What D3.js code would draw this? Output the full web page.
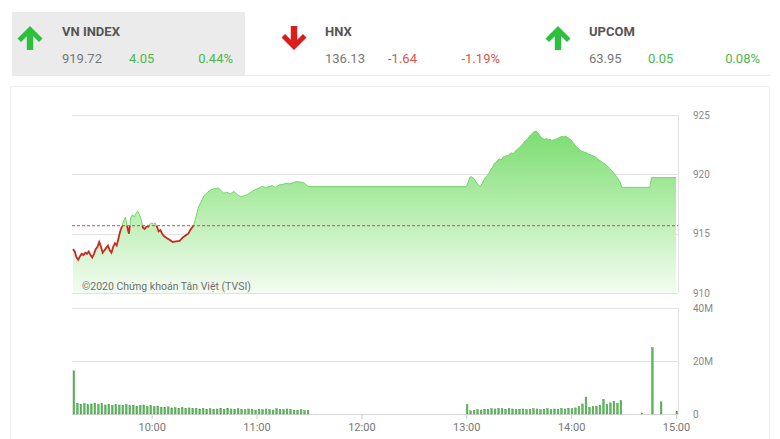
<!DOCTYPE html>
<html><head><meta charset="utf-8">
<script src="https://cdn.jsdelivr.net/npm/d3@7/dist/d3.min.js"></script>
<style>
html,body{margin:0;padding:0;background:#fff;}
svg{display:block;font-family:Roboto,"Noto Sans",sans-serif;}
</style></head>
<body><svg id="c" width="780" height="439"></svg>
<script>
// ---------- data ----------
const indexNames   = ["VN INDEX", "HNX", "UPCOM"];
const indexValues  = ["919.72", "136.13", "63.95"];
const indexChanges = ["4.05", "-1.64", "0.05"];
const indexPercent = ["0.44%", "-1.19%", "0.08%"];
const indexUp      = [true, false, true];

const referencePrice = 915.67;
const priceTicks = [910, 915, 920, 925];
const volumeTicks = [0, 20, 40];
const timeTicks = ["10:00", "11:00", "12:00", "13:00", "14:00", "15:00"];

const priceSeries = [
 ["09:15",913.7],["09:16",913.5],["09:17",913.0],["09:18",912.8],["09:19",913.1],["09:20",913.3],
 ["09:21",913.2],["09:22",913.4],["09:23",913.3],["09:24",913.5],["09:25",913.2],["09:26",913.0],
 ["09:27",913.3],["09:28",913.7],["09:29",913.9],["09:30",914.3],["09:31",913.9],["09:32",913.4],
 ["09:33",913.6],["09:34",913.8],["09:35",914.0],["09:36",913.6],["09:37",913.4],["09:38",913.9],
 ["09:39",914.2],["09:40",914.0],["09:41",914.6],["09:42",915.2],["09:43",915.6],["09:44",916.1],
 ["09:45",916.4],["09:46",915.6],["09:47",915.0],["09:48",916.3],["09:49",916.6],["09:50",916.4],
 ["09:51",916.7],["09:52",916.9],["09:53",916.6],["09:54",916.2],["09:55",915.5],["09:56",915.4],
 ["09:57",915.6],["09:58",915.6],["09:59",915.8],["10:00",915.9],["10:01",915.8],["10:02",915.9],
 ["10:03",915.6],["10:04",915.2],["10:05",915.3],["10:06",915.0],["10:07",914.8],["10:08",914.7],
 ["10:09",914.6],["10:10",914.5],["10:11",914.4],["10:12",914.3],["10:14",914.35],["10:16",914.4],
 ["10:18",914.7],["10:20",914.9],["10:21",915.0],["10:22",915.3],["10:24",915.7],["10:25",916.2],
 ["10:26",916.8],["10:27",917.3],["10:29",917.9],["10:30",918.2],["10:32",918.5],["10:34",918.7],
 ["10:36",918.8],["10:38",918.85],["10:40",918.6],["10:41",918.4],["10:43",918.5],["10:45",918.35],
 ["10:47",918.55],["10:49",918.3],["10:51",918.1],["10:53",918.2],["10:55",918.3],["10:57",918.5],
 ["10:59",918.7],["11:01",918.8],["11:03",919.0],["11:05",918.9],["11:07",918.95],["11:09",919.05],
 ["11:11",918.9],["11:13",919.1],["11:15",919.15],["11:17",919.25],["11:19",919.2],["11:21",919.3],
 ["11:23",919.4],["11:25",919.35],["11:27",919.3],["11:29",919.05],["11:30",918.96],
 ["13:00",918.96],["13:01",919.3],["13:02",919.75],["13:03",919.8],["13:04",919.7],["13:05",919.5],
 ["13:06",919.25],["13:07",919.1],["13:08",918.95],["13:09",919.2],["13:10",919.5],["13:11",919.75],
 ["13:12",919.9],["13:13",920.1],["13:14",920.35],["13:15",920.6],["13:16",920.9],["13:17",921.0],
 ["13:18",921.2],["13:19",921.3],["13:20",921.2],["13:21",921.45],["13:22",921.5],["13:23",921.6],
 ["13:24",921.55],["13:25",921.75],["13:26",921.8],["13:27",921.75],["13:28",921.95],["13:29",922.1],
 ["13:30",922.2],["13:31",922.35],["13:32",922.5],["13:33",922.7],["13:34",922.85],["13:35",922.95],
 ["13:36",923.2],["13:37",923.3],["13:38",923.5],["13:39",923.6],["13:40",923.65],["13:41",923.5],
 ["13:42",923.3],["13:43",923.1],["13:44",923.0],["13:45",922.95],["13:46",923.0],["13:47",922.9],
 ["13:48",922.95],["13:49",922.85],["13:50",922.9],["13:51",922.95],["13:52",923.0],["13:53",923.1],
 ["13:54",923.15],["13:55",923.2],["13:56",923.15],["13:57",923.2],["13:58",923.1],["13:59",923.0],
 ["14:00",922.9],["14:01",922.7],["14:02",922.5],["14:03",922.3],["14:04",922.2],["14:05",922.05],
 ["14:06",921.95],["14:07",921.9],["14:08",921.85],["14:09",921.8],["14:10",921.7],["14:12",921.6],
 ["14:14",921.45],["14:16",921.2],["14:18",921.0],["14:20",920.8],["14:22",920.5],["14:24",920.2],
 ["14:26",919.8],["14:28",919.35],["14:29",918.9],["14:30",918.9],["14:45",918.9],["14:46",919.72],
 ["15:00",919.72]
];

// volume (millions), two-minute bars
const volumeMorningStart = "09:15";
const volumeMorning = [16.3,
 4.0,3.6,3.9,3.5,3.8,4.1,3.6,3.9,3.4,3.7,3.3,3.5,
 3.4,3.2,3.5,3.1,3.3,3.0,3.2,3.4,2.9,3.1,
 2.8,3.0,2.6,2.5,2.7,2.3,2.4,2.2,2.5,2.1,2.3,2.0,2.2,1.9,2.1,
 1.8,2.0,1.7,1.9,2.1,1.8,2.2,1.9,1.7,2.0,1.8,1.6,1.9,1.7,1.5,
 1.8,1.6,1.9,1.7,1.5,2.0,1.8,1.6,1.9,1.7,1.5,1.4,1.6,1.3,1.4];
const volumeAfternoonStart = "13:00";
const volumeAfternoon = [3.5,
 1.2,1.4,1.6,1.5,1.8,1.7,2.0,1.9,2.1,2.0,1.8,2.1,1.9,1.7,1.8,
 1.9,1.7,1.8,2.0,1.9,1.6,1.8,2.0,1.7,1.9,1.8,2.1,1.9,2.2,2.0,
 2.3,2.8,3.8,6.4,2.5,2.8,3.0,3.3,5.5,3.6,4.2,4.8,4.0,5.0];
const volumeLate = [["14:40",0.4],["14:46",25.0],["14:51",4.6],["15:00",1.0]];

// ---------- drawing ----------
const svg = d3.select("#c");
const parse = d3.timeParse("%H:%M");
const fmt = d3.timeFormat("%H:%M");

const x = d3.scaleTime().domain([parse("09:15"), parse("15:00")]).range([73, 676]);
const yP = d3.scaleLinear().domain([910, 925]).range([293, 115]);
const yV = d3.scaleLinear().domain([0, 40]).range([414, 308]);

// header
svg.append("rect").attr("x",12).attr("y",12).attr("width",233).attr("height",63).attr("fill","#ebebeb");
svg.append("line").attr("x1",12).attr("x2",770).attr("y1",75.5).attr("y2",75.5).attr("stroke","#e8e8e8");
const arrowUp = "M0,0 L12.5,12.5 L9,16 L3.2,10.2 L3.2,24 L-3.2,24 L-3.2,10.2 L-9,16 L-12.5,12.5 Z";
const arrowOffsets = [30, 294, 558];
const nameX = [62, 325, 589];
const chgX = [129, 388, 648];
const pctX = [233, 500, 760];
indexNames.forEach((n,i)=>{
  const col = indexUp[i] ? "#2fbf3f" : "#dd1c1c";
  const txtCol = indexUp[i] ? "#4cb84c" : "#d9534f";
  const g = svg.append("g");
  g.append("path").attr("d", arrowUp)
    .attr("transform", indexUp[i] ? `translate(${arrowOffsets[i]},26)` : `translate(${arrowOffsets[i]},50) scale(1,-1)`)
    .attr("fill", col);
  g.append("text").attr("x",nameX[i]).attr("y",36).attr("font-size",13).attr("font-weight","bold")
    .attr("fill","#555").text(n);
  g.append("text").attr("x",nameX[i]).attr("y",63).attr("font-size",13).attr("fill","#777").text(indexValues[i]);
  g.append("text").attr("x",chgX[i]).attr("y",63).attr("font-size",13).attr("fill",txtCol).text(indexChanges[i]);
  g.append("text").attr("x",pctX[i]).attr("y",63).attr("font-size",13).attr("fill",txtCol)
    .attr("text-anchor","end").text(indexPercent[i]);
});

// card
svg.append("rect").attr("x",10.5).attr("y",86.5).attr("width",759).attr("height",360)
  .attr("fill","none").attr("stroke","#efefef");

const defs = svg.append("defs");
const grad = defs.append("linearGradient").attr("id","gfill").attr("gradientUnits","userSpaceOnUse")
  .attr("x1",0).attr("x2",0).attr("y1",yP(923.5)).attr("y2",yP(910));
grad.append("stop").attr("offset",0).attr("stop-color","#7ddd73");
grad.append("stop").attr("offset",0.45).attr("stop-color","#b3edaa");
grad.append("stop").attr("offset",1).attr("stop-color","#f4fcf2");

const yRef = yP(referencePrice);
defs.append("clipPath").attr("id","above").append("rect")
  .attr("x",0).attr("y",0).attr("width",780).attr("height",yRef);
defs.append("clipPath").attr("id","below").append("rect")
  .attr("x",0).attr("y",yRef).attr("width",780).attr("height",439-yRef);

// price gridlines
const gridG = svg.append("g");
priceTicks.forEach(t=>{
  gridG.append("line").attr("x1",72).attr("x2",678).attr("y1",Math.round(yP(t))+0.5).attr("y2",Math.round(yP(t))+0.5)
    .attr("stroke","#e2e2e2");
});
gridG.append("line").attr("x1",678.5).attr("x2",678.5).attr("y1",yP(925)).attr("y2",yP(910)).attr("stroke","#e2e2e2");

const pdata = priceSeries.map(d=>({t:parse(d[0]), v:d[1]}));
const area = d3.area().x(d=>x(d.t)).y0(yP(910)).y1(d=>yP(d.v));
const line = d3.line().x(d=>x(d.t)).y(d=>yP(d.v));
svg.append("path").datum(pdata).attr("d",area).attr("fill","url(#gfill)");
svg.append("path").datum(pdata).attr("d",line).attr("fill","none").attr("stroke","#72d468")
  .attr("stroke-width",1).attr("clip-path","url(#above)");
svg.append("path").datum(pdata).attr("d",line).attr("fill","none").attr("stroke","#c62a22")
  .attr("stroke-width",1.8).attr("clip-path","url(#below)");

svg.append("line").attr("x1",72).attr("x2",678).attr("y1",yRef).attr("y2",yRef)
  .attr("stroke","#c0504d").attr("stroke-width",1).attr("stroke-dasharray","3,2");

svg.append("text").attr("x",82).attr("y",290).attr("font-size",10.5).attr("fill","#6f6f6f")
  .text("©2020 Chứng khoán Tân Việt (TVSI)");

// price axis
const pAxis = svg.append("g").attr("transform","translate(693,0)")
  .call(d3.axisRight(yP).tickValues(priceTicks).tickSize(0).tickPadding(0));
pAxis.select(".domain").remove();
pAxis.selectAll("text").attr("font-size",10).attr("fill","#888").attr("font-family","Roboto,sans-serif");

// volume panel
const vG = svg.append("g");
volumeTicks.forEach(t=>{
  vG.append("line").attr("x1",72).attr("x2",678).attr("y1",Math.round(yV(t))+0.5).attr("y2",Math.round(yV(t))+0.5)
    .attr("stroke", t===0 ? "#d6d6d6" : "#e2e2e2");
});
vG.append("line").attr("x1",678.5).attr("x2",678.5).attr("y1",yV(40)).attr("y2",yV(0)).attr("stroke","#e2e2e2");

const vdata = [];
const addSession = (start, arr) => {
  const s = parse(start);
  arr.forEach((v,i)=> vdata.push({t:d3.timeMinute.offset(s, i*2), v:v}));
};
addSession(volumeMorningStart, volumeMorning);
addSession(volumeAfternoonStart, volumeAfternoon);
volumeLate.forEach(d=>vdata.push({t:parse(d[0]), v:d[1]}));

vG.selectAll("rect.bar").data(vdata).enter().append("rect")
  .attr("x",d=>x(d.t)).attr("width",1.7)
  .attr("y",d=>yV(d.v)).attr("height",d=>yV(0)-yV(d.v))
  .attr("fill","#5cb85c").attr("stroke","#3f9a3f").attr("stroke-width",0.4);

const vAxis = svg.append("g").attr("transform","translate(693,0)")
  .call(d3.axisRight(yV).tickValues(volumeTicks).tickSize(0).tickPadding(0)
    .tickFormat(d=> d===0 ? "0" : d + "M"));
vAxis.select(".domain").remove();
vAxis.selectAll("text").attr("font-size",10).attr("fill","#888").attr("font-family","Roboto,sans-serif");

// time axis
const xAxis = svg.append("g").attr("transform",`translate(0,${yV(0)})`)
  .call(d3.axisBottom(x).tickValues(timeTicks.map(parse)).tickFormat(fmt).tickSize(5).tickPadding(4));
xAxis.select(".domain").remove();
xAxis.selectAll("line").attr("stroke","#ccc");
xAxis.selectAll("text").attr("font-size",11).attr("fill","#777").attr("font-family","Roboto,sans-serif");
</script></body></html>
